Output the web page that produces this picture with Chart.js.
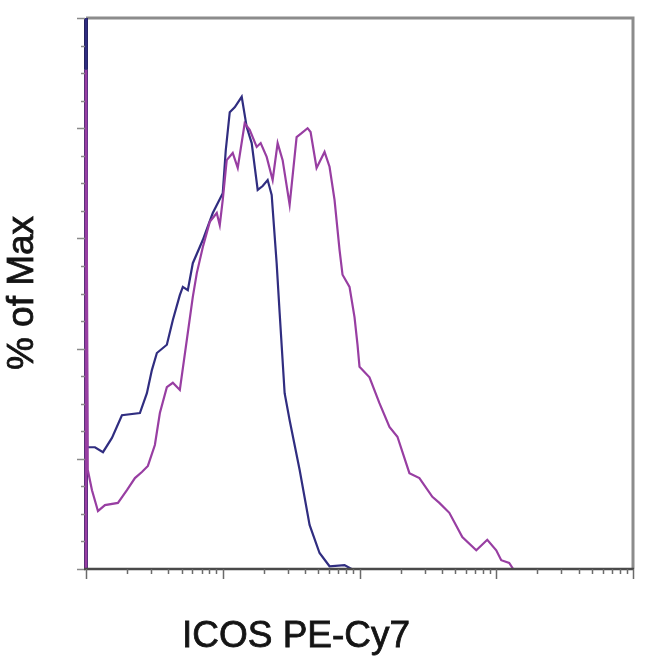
<!DOCTYPE html>
<html>
<head>
<meta charset="utf-8">
<script src="https://cdn.jsdelivr.net/npm/chart.js@4"></script>
<style>
html,body{margin:0;padding:0;background:#fff;}
#wrap{width:650px;height:666px;}
</style>
</head>
<body>
<div id="wrap"><canvas id="c" width="650" height="666"></canvas></div>
<script>
// ---- data (x = fluorescence intensity, y = % of max) ----
const blueX = [10, 10.02, 10.2, 11.63, 13.31, 15.48, 18.31, 24.78, 27.88, 30.32, 32.98, 39.01, 43.16, 48.54, 51.06, 55.53, 60.40, 71.45, 84.53, 100, 105.2, 112.5, 122.3, 137.6, 149.7, 162.8, 180.1, 195.9, 213.0, 227.9, 247.8, 260.6, 283.5, 308.4, 364.8, 431.5, 510.4, 603.8, 777.2, 874.2];
const blueY = [0, 100, 22.1, 22.1, 21.2, 23.8, 27.9, 28.3, 31.9, 36.1, 39.2, 40.7, 45.2, 49.7, 51.2, 50.6, 55.5, 59.7, 64.6, 68.2, 76.0, 82.9, 83.8, 85.7, 80.2, 77.3, 68.8, 69.5, 70.6, 67.9, 55.5, 46.5, 31.9, 27.0, 18.0, 8.0, 2.9, 0.5, 0.7, 0];

const purpleX = [10, 10.02, 10.3, 11.06, 12.23, 13.76, 17.12, 19.92, 22.79, 25.63, 28.35, 31.89, 34.69, 39.01, 43.16, 48.54, 54.61, 60.40, 64.60, 71.45, 80.37, 90.41, 95.09, 100, 106.9, 118.3, 128.7, 144.7, 157.4, 177.1, 189.4, 209.5, 231.7, 252.0, 274.1, 308.4, 346.8, 377.2, 417.3, 438.8, 485.4, 555.1, 603.8, 656.8, 714.5, 751.5, 845.3, 919.4, 966.9, 1000, 1183, 1399, 1656, 1894, 2317, 2741, 3411, 3837, 4539, 5647, 7145, 8598, 10000, 10875, 12438, 13301];
const purpleY = [0, 90.6, 18.0, 14.3, 10.5, 11.6, 12.0, 14.3, 16.5, 17.6, 18.7, 22.5, 28.3, 33.0, 33.8, 32.5, 41.6, 49.4, 53.7, 58.4, 63.0, 64.6, 62.4, 67.0, 74.2, 75.5, 72.8, 80.9, 79.7, 76.6, 77.3, 74.8, 70.6, 77.3, 74.2, 66.1, 78.4, 79.1, 80.0, 79.3, 72.8, 75.7, 73.0, 67.0, 57.9, 53.4, 51.2, 45.7, 40.7, 36.7, 34.8, 30.1, 25.8, 24.0, 17.4, 16.5, 13.1, 12.0, 10.2, 5.8, 3.4, 5.3, 3.4, 1.6, 1.1, 0];

// ---- axes / ticks ----
const xMin = 10, xMax = 100000;
const xMajorTicks = [10, 100, 1000, 10000, 100000];
const xMinorMultipliers = [2, 3, 4, 5, 6, 7, 8, 9];
const yMin = 0, yMax = 100;
const yMajorTicks = [0, 20, 40, 60, 80, 100];
const yMinorStep = 5;
const xTitle = 'ICOS PE-Cy7';
const yTitle = '% of Max';

function pts(xs, ys){ return xs.map((x,i)=>({x:x, y:ys[i]})); }

const framePlugin = {
  id: 'frame',
  beforeDatasetsDraw(chart){
    const ctx = chart.ctx, a = chart.chartArea;
    const ys = chart.scales.y;
    ctx.save();
    // top & right frame (light grey)
    ctx.strokeStyle = '#8c8c8c';
    ctx.lineWidth = 3;
    ctx.beginPath();
    ctx.moveTo(a.left, a.top); ctx.lineTo(a.right, a.top); ctx.lineTo(a.right, a.bottom);
    ctx.stroke();
    // left axis (largely hidden under the first-bin spikes)
    ctx.strokeStyle = '#5a2f78';
    ctx.lineWidth = 4;
    ctx.beginPath();
    ctx.moveTo(a.left, ys.getPixelForValue(90.6)); ctx.lineTo(a.left, a.bottom);
    ctx.stroke();
    ctx.strokeStyle = '#24225e';
    ctx.beginPath();
    ctx.moveTo(a.left, a.top); ctx.lineTo(a.left, ys.getPixelForValue(90.6));
    ctx.stroke();
    // y ticks
    ctx.strokeStyle = '#8a8a8a';
    ctx.lineWidth = 1.5;
    for (let v = yMin; v <= yMax; v += yMinorStep){
      const py = Math.round(ys.getPixelForValue(v)) + 0.5;
      const len = yMajorTicks.includes(v) ? 9 : 5;
      ctx.beginPath(); ctx.moveTo(a.left - len, py); ctx.lineTo(a.left - 1, py); ctx.stroke();
    }
    ctx.restore();
  },
  afterDatasetsDraw(chart){
    const ctx = chart.ctx, a = chart.chartArea;
    const xs = chart.scales.x;
    ctx.save();
    // bottom axis
    ctx.strokeStyle = '#4a4a4a';
    ctx.lineWidth = 2.5;
    ctx.beginPath();
    ctx.moveTo(a.left - 2, a.bottom); ctx.lineTo(a.right + 1, a.bottom);
    ctx.stroke();
    // x ticks
    ctx.strokeStyle = '#6a6a6a';
    ctx.lineWidth = 1.5;
    xMajorTicks.forEach((m, i) => {
      const px = Math.round(xs.getPixelForValue(m)) + 0.5;
      ctx.beginPath(); ctx.moveTo(px, a.bottom); ctx.lineTo(px, a.bottom + 10); ctx.stroke();
      if (i < xMajorTicks.length - 1){
        xMinorMultipliers.forEach(k => {
          const qx = Math.round(xs.getPixelForValue(m * k)) + 0.5;
          ctx.beginPath(); ctx.moveTo(qx, a.bottom); ctx.lineTo(qx, a.bottom + 5); ctx.stroke();
        });
      }
    });
    // titles
    ctx.fillStyle = '#141414';
    ctx.font = '37px "Liberation Sans", Arial, sans-serif';
    ctx.textAlign = 'center';
    ctx.textBaseline = 'alphabetic';
    ctx.fillText(xTitle, 296, 647);
    ctx.strokeStyle = '#141414';
    ctx.lineWidth = 0.8;
    ctx.strokeText(xTitle, 296, 647);
    ctx.translate(23, 293);
    ctx.rotate(-Math.PI/2);
    ctx.textBaseline = 'middle';
    ctx.fillText(yTitle, 0, 0);
    ctx.strokeText(yTitle, 0, 0);
    ctx.restore();
  }
};

new Chart(document.getElementById('c'), {
  type: 'line',
  data: {
    datasets: [
      { label: 'purple', data: pts(purpleX, purpleY), borderColor: '#983ea2', borderWidth: 2.2, pointRadius: 0, tension: 0, clip: 4, order: 0 },
      { label: 'blue', data: pts(blueX, blueY), borderColor: '#302d80', borderWidth: 2.2, pointRadius: 0, tension: 0, clip: 4, order: 1 }
    ]
  },
  options: {
    responsive: false,
    animation: false,
    events: [],
    layout: { padding: { left: 86, top: 18, right: 17, bottom: 97 } },
    plugins: { legend: { display: false }, tooltip: { enabled: false } },
    scales: {
      x: { type: 'logarithmic', min: xMin, max: xMax, display: false },
      y: { type: 'linear', min: yMin, max: yMax, display: false }
    }
  },
  plugins: [framePlugin]
});
</script>
</body>
</html>
